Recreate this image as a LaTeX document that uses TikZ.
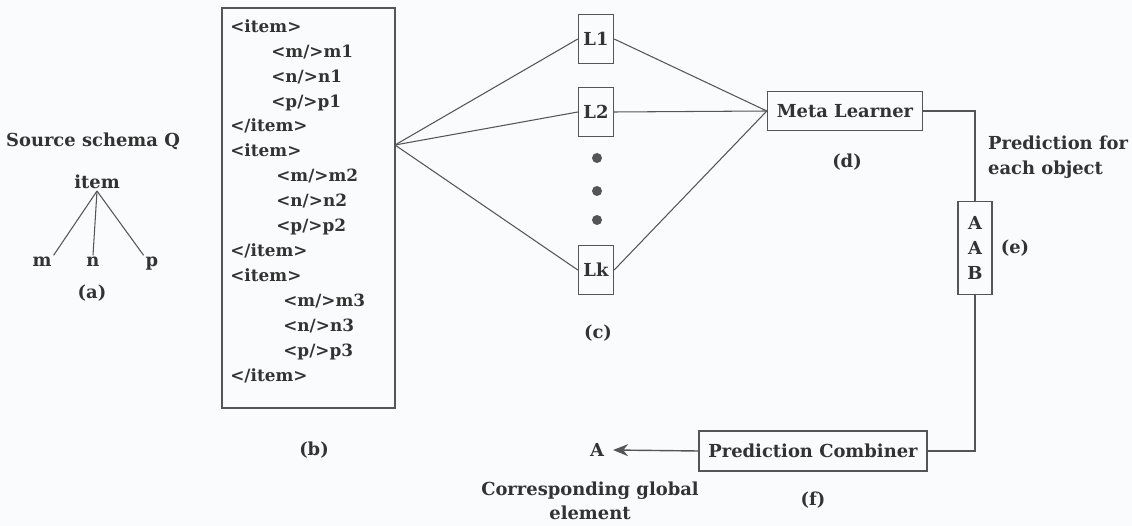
\documentclass[tikz,border=0pt]{standalone}
\usepackage{fontspec}
\setmainfont{DejaVu Serif}
\usetikzlibrary{arrows.meta,positioning,calc}
\definecolor{paper}{HTML}{FAFBFC}
\definecolor{ink}{HTML}{333333}
\definecolor{rule}{HTML}{555555}
\newcommand{\figfont}{\bfseries\fontsize{10.2}{14.2}\selectfont}
\newcommand{\tagfont}{\bfseries\fontsize{9.6}{14.2}\selectfont}
\tikzset{
  lbl/.style={font=\figfont, text=ink, inner sep=1pt},
  learner/.style={draw=rule, line width=0.8pt, fill=paper, font=\figfont, text=ink, minimum width=0.7cm, minimum height=0.98cm, inner sep=0pt, align=center},
  stage/.style={draw=rule, line width=0.8pt, fill=paper, font=\figfont, text=ink, minimum height=0.8cm, inner sep=0pt},
  link/.style={draw=rule, line width=0.6pt},
  arrow/.style={-{Stealth[length=3mm,width=2.4mm]}, link, line width=0.8pt}
}

\begin{document}
\begin{tikzpicture}[x=0.02cm, y=-0.02cm]
  \fill[paper] (0,0) rectangle (1132,526);

  % (a) source schema
  \node[lbl] (src) at (93,141) {Source schema Q};
  \node[lbl] (item) at (97,182) {item};
  \node[lbl, anchor=base] (m) at (42,267) {m};
  \node[lbl, anchor=base] (n) at (93,267) {n};
  \node[lbl, anchor=base] (p) at (152,267) {p};
  \node[lbl] (capa) at (92,293) {(a)};
  \draw[link] (item.south) -- (m.north east);
  \draw[link] (item.south) -- (n.north);
  \draw[link] (item.south) -- (p.north west);

  % (b) instances
  \node[draw=rule, line width=0.8pt, minimum width=3.46cm, minimum height=8cm, inner sep=0pt] (xml) at (308.5,208) {};
  \node[lbl, font=\tagfont, anchor=north west, align=left, inner sep=0pt] (tags) at (230,19) {%
    <item>\\
    \hspace*{0.82cm}<m/>m1\\
    \hspace*{0.82cm}<n/>n1\\
    \hspace*{0.82cm}<p/>p1\\
    </item>\\
    <item>\\
    \hspace*{0.92cm}<m/>m2\\
    \hspace*{0.92cm}<n/>n2\\
    \hspace*{0.92cm}<p/>p2\\
    </item>\\
    <item>\\
    \hspace*{1.06cm}<m/>m3\\
    \hspace*{1.06cm}<n/>n3\\
    \hspace*{1.06cm}<p/>p3\\
    </item>};
  \node[lbl] (capb) at (314,450) {(b)};
  \coordinate (fan) at (395,145);

  % (c) base learners
  \node[learner] (l1) at (596,39) {L1};
  \node[learner] (l2) at (596,112) {L2};
  \node[learner] (lk) at (596,270) {Lk};
  \foreach \y in {158,191,220}
    \fill[rule] (597,\y) circle (0.1cm);
  \node[lbl] (capc) at (598,333) {(c)};

  % (d) meta learner, (e) predictions
  \node[stage, minimum width=3.1cm, minimum height=0.78cm] (meta) at (845,111) {Meta Learner};
  \node[lbl] (capd) at (847,162) {(d)};
  \node[learner, minimum width=0.68cm, minimum height=1.86cm] (votes) at (975,248) {A\\A\\B};
  \node[lbl] (cape) at (1015,248) {(e)};
  \node[lbl, anchor=west, align=left] (pred) at (986,157) {Prediction for\\each object};

  % (f) combiner
  \node[stage, minimum width=4.56cm] (comb) at (813,451) {Prediction Combiner};
  \node[lbl] (capf) at (813,500) {(f)};
  \node[lbl, inner xsep=5pt] (glob) at (597,450) {A};
  \node[lbl, align=center, font=\bfseries\fontsize{10.2}{13.7}\selectfont] (globtxt) at (590,501) {Corresponding global\\element};

  \draw[link] (fan) -- (l1.west);
  \draw[link] (fan) -- (l2.west);
  \draw[link] (fan) -- (lk.west);
  \draw[link] (l1.east) -- (meta.west);
  \draw[link] (l2.east) -- (meta.west);
  \draw[link] (lk.east) -- (meta.west);
  \draw[link] (meta.east) -| (votes.north);
  \draw[link] (votes.south) |- (comb.east);
  \draw[arrow] (comb.west) -- (glob.east);
\end{tikzpicture}
\end{document}
